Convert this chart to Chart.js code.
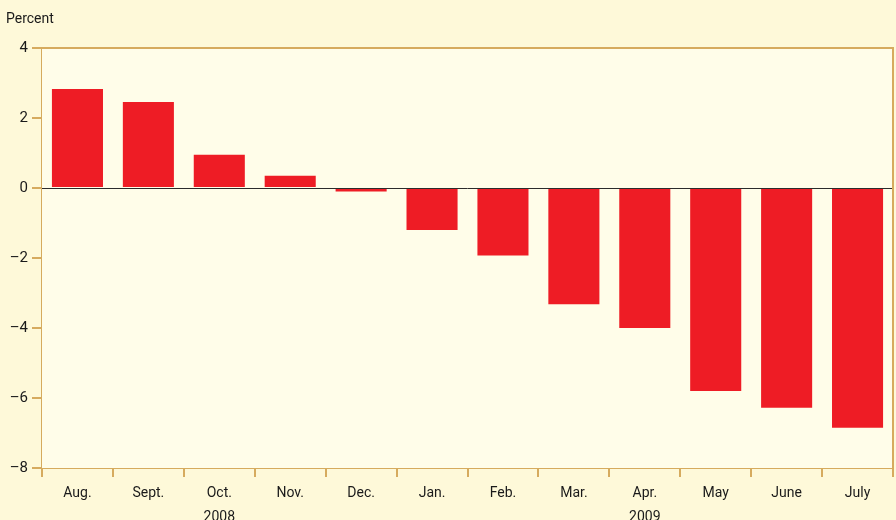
<!DOCTYPE html>
<html lang="en">
<head>
    <meta charset="UTF-8">
    <title>Percent change by month</title>
    <script src="https://cdn.jsdelivr.net/npm/chart.js"></script>
    <style>
        html, body {
            margin: 0;
            padding: 0;
            overflow: hidden;
            background-color: #fef9d9;
        }
        #chart-wrap {
            width: 896px;
            height: 533px;
            position: relative;
        }
    </style>
</head>
<body>
    <div id="chart-wrap">
        <canvas id="chart"></canvas>
    </div>
    <script>
        // Data
        const months = [
            'Aug.', 'Sept.', ['Oct.', '2008'], 'Nov.', 'Dec.', 'Jan.',
            'Feb.', 'Mar.', ['Apr.', '2009'], 'May', 'June', 'July'
        ];
        const percentChange = [2.83, 2.46, 0.95, 0.35, -0.1, -1.2, -1.93, -3.32, -4.0, -5.8, -6.28, -6.85];
        const yTicks = [4, 2, 0, -2, -4, -6, -8];

        const gold = '#d6ab5e';
        const fontFamily = "'Roboto', 'DejaVu Sans Condensed', sans-serif";

        // Plot background, border and zero line
        const frame = {
            id: 'frame',
            beforeDatasetsDraw(chart) {
                const { ctx, chartArea: a } = chart;
                ctx.save();
                ctx.fillStyle = '#fffde9';
                ctx.fillRect(a.left, a.top, a.right - a.left, a.bottom - a.top);
                ctx.restore();
            },
            afterDatasetsDraw(chart) {
                const { ctx, chartArea: a, scales } = chart;
                const y0 = Math.round(scales.y.getPixelForValue(0)) + 0.5;
                ctx.save();
                ctx.strokeStyle = '#2b2b2b';
                ctx.lineWidth = 1;
                ctx.beginPath();
                ctx.moveTo(a.left, y0);
                ctx.lineTo(a.right, y0);
                ctx.stroke();
                ctx.strokeStyle = gold;
                ctx.lineWidth = 2;
                ctx.beginPath();
                ctx.moveTo(a.left, a.top);
                ctx.lineTo(a.right, a.top);
                ctx.lineTo(a.right, a.bottom);
                ctx.stroke();
                ctx.fillStyle = '#1a1a1a';
                ctx.font = '14px ' + fontFamily;
                ctx.textBaseline = 'middle';
                ctx.textAlign = 'left';
                ctx.fillText('Percent', 6, 19);
                ctx.restore();
            }
        };

        new Chart(document.getElementById('chart'), {
            type: 'bar',
            data: {
                labels: months,
                datasets: [{
                    data: percentChange,
                    backgroundColor: '#ee1c25',
                    borderWidth: 0,
                    barPercentage: 0.72,
                    categoryPercentage: 1
                }]
            },
            options: {
                responsive: true,
                maintainAspectRatio: false,
                animation: false,
                layout: {
                    padding: { top: 48, right: 3, left: 0, bottom: 0 }
                },
                plugins: {
                    legend: { display: false },
                    tooltip: { enabled: false }
                },
                scales: {
                    x: {
                        offset: true,
                        grid: {
                            offset: true,
                            drawOnChartArea: false,
                            color: gold,
                            lineWidth: 2,
                            tickLength: 9
                        },
                        border: { color: gold, width: 2 },
                        ticks: {
                            color: '#1a1a1a',
                            padding: 4,
                            maxRotation: 0,
                            autoSkip: false,
                            font: { family: fontFamily, size: 14, lineHeight: '24px' }
                        }
                    },
                    y: {
                        min: -8,
                        max: 4,
                        afterBuildTicks(scale) {
                            scale.ticks = yTicks.map(v => ({ value: v }));
                        },
                        afterFit(scale) {
                            scale.width = 42;
                        },
                        grid: {
                            drawOnChartArea: false,
                            color: gold,
                            lineWidth: 2,
                            tickLength: 10
                        },
                        border: { color: gold, width: 2 },
                        ticks: {
                            color: '#1a1a1a',
                            padding: 4,
                            font: { family: fontFamily, size: 15 },
                            callback: v => String(v).replace('-', '\u2013')
                        }
                    }
                }
            },
            plugins: [frame]
        });
    </script>
</body>
</html>
